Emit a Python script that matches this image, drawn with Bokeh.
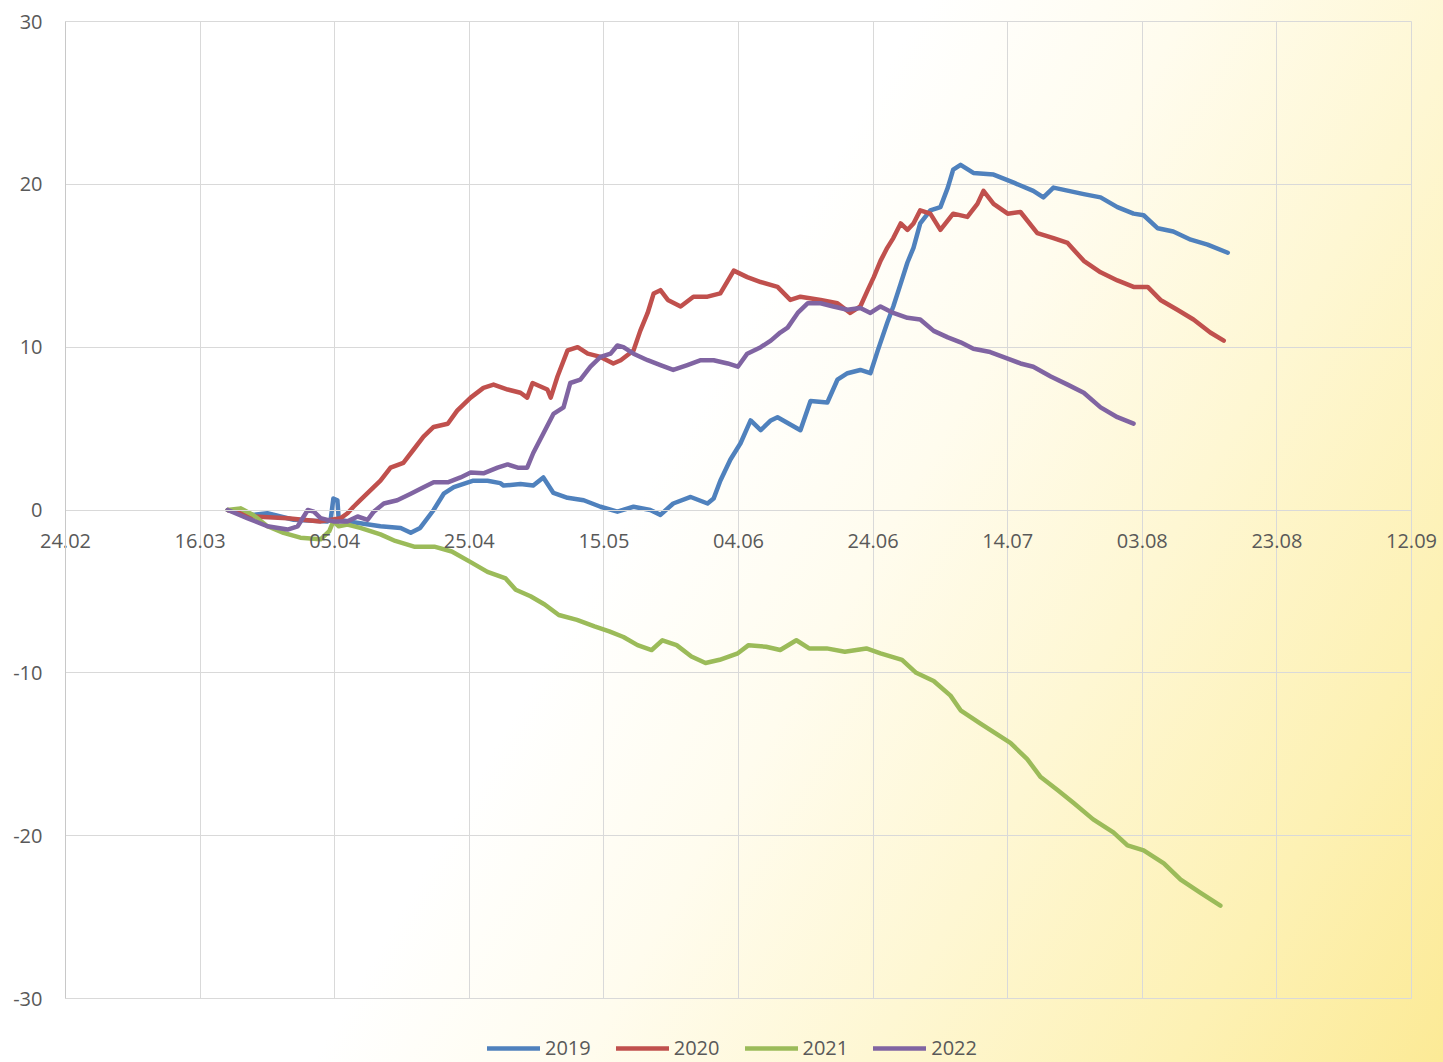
from bokeh.plotting import figure
from bokeh.models import Range1d, Legend, LegendItem, FixedTicker, Grid
from bokeh.embed import file_html
from bokeh.resources import INLINE

# x = days after 24.02 (non-leap year), y = weight change
tick_days = [0, 20, 40, 60, 80, 100, 120, 140, 160, 180, 200]
tick_labels = ["24.02", "16.03", "05.04", "25.04", "15.05", "04.06",
               "24.06", "14.07", "03.08", "23.08", "12.09"]
y_ticks = [-30, -20, -10, 0, 10, 20, 30]
y_tick_labels = ["-30", "-20", "-10", "0", "10", "20", "30"]

days_2019 = [24.1, 27.9, 30.0, 33.9, 38.9, 39.4, 39.8, 40.4, 40.6, 42.8, 46.8, 49.8, 51.3, 52.7,
             54.7, 56.2, 57.7, 60.6, 62.7, 64.6, 65.1, 67.6, 69.5, 71.0, 72.5, 74.6, 77.0, 79.5,
             82.0, 84.4, 86.9, 88.4, 90.3, 92.9, 95.4, 96.3, 97.3, 98.8, 100.3, 101.8, 103.3,
             104.8, 105.8, 107.5, 109.2, 110.7, 113.2, 114.7, 116.2, 118.1, 119.6, 120.7, 122.1,
             123.0, 124.1, 125.1, 126.0, 127.0, 128.5, 130.0, 131.1, 131.9, 133.0, 134.9, 137.9,
             140.9, 143.8, 145.3, 146.8, 151.3, 153.8, 156.3, 158.7, 160.2, 162.3, 164.6, 167.2,
             169.7, 172.7]
vals_2019 = [0.0, -0.3, -0.2, -0.6, -0.7, -0.6, 0.7, 0.6, -0.6, -0.75, -1.0, -1.1, -1.4, -1.1,
             0.0, 1.0, 1.4, 1.8, 1.8, 1.65, 1.5, 1.6, 1.5, 2.0, 1.05, 0.75, 0.6, 0.2,
             -0.1, 0.2, 0.0, -0.3, 0.4, 0.8, 0.4, 0.7, 1.8, 3.1, 4.1, 5.5, 4.9,
             5.5, 5.7, 5.3, 4.9, 6.7, 6.6, 8.0, 8.4, 8.6, 8.4, 9.8, 11.5,
             12.5, 13.9, 15.2, 16.1, 17.6, 18.4, 18.6, 19.8, 20.9, 21.2, 20.7, 20.6,
             20.1, 19.6, 19.2, 19.8, 19.4, 19.2, 18.6, 18.2, 18.1, 17.3, 17.1, 16.6,
             16.3, 15.8]

days_2020 = [24.1, 27.9, 33.0, 37.9, 40.9, 41.9, 42.8, 43.8, 45.3, 46.8, 48.3, 50.2, 51.7, 53.2,
             54.7, 56.8, 58.2, 60.2, 62.1, 63.6, 65.7, 67.6, 68.6, 69.4, 71.6, 72.1, 73.1, 74.6,
             76.1, 77.6, 79.5, 81.4, 82.5, 84.4, 85.4, 86.5, 87.4, 88.4, 89.5, 91.4, 93.3, 95.4,
             97.3, 99.3, 101.3, 103.3, 105.8, 107.7, 109.2, 112.2, 114.7, 116.6, 118.1, 119.2,
             120.1, 121.1, 122.1, 123.0, 124.1, 125.1, 126.0, 127.0, 128.5, 130.0, 131.9, 134.0,
             135.5, 136.4, 137.9, 140.0, 141.9, 144.4, 146.8, 148.9, 151.3, 153.8, 156.3, 158.7,
             160.8, 162.7, 165.2, 167.6, 170.1, 172.1]
vals_2020 = [0.0, -0.4, -0.5, -0.7, -0.5, -0.2, 0.2, 0.6, 1.2, 1.8, 2.6, 2.9, 3.7, 4.5,
             5.1, 5.3, 6.1, 6.9, 7.5, 7.7, 7.4, 7.2, 6.9, 7.8, 7.4, 6.9, 8.2, 9.8,
             10.0, 9.6, 9.4, 9.0, 9.2, 9.8, 11.0, 12.1, 13.3, 13.5, 12.9, 12.5, 13.1, 13.1,
             13.3, 14.7, 14.3, 14.0, 13.7, 12.9, 13.1, 12.9, 12.7, 12.1, 12.5, 13.5,
             14.3, 15.3, 16.1, 16.7, 17.6, 17.2, 17.6, 18.4, 18.2, 17.2, 18.2, 18.0,
             18.8, 19.6, 18.8, 18.2, 18.3, 17.0, 16.7, 16.4, 15.3, 14.6, 14.1, 13.7,
             13.7, 12.9, 12.3, 11.7, 10.9, 10.4]

days_2021 = [24.1, 26.0, 27.9, 30.0, 32.4, 34.9, 37.9, 39.2, 39.8, 40.6, 41.9, 43.8, 46.8, 49.0,
             51.8, 54.8, 57.4, 60.2, 62.7, 65.4, 66.9, 69.1, 71.2, 73.3, 76.0, 78.6, 80.8, 82.9,
             85.0, 87.1, 88.7, 90.8, 93.0, 95.1, 97.2, 99.9, 101.5, 104.1, 106.2, 108.6, 110.5,
             113.1, 115.8, 119.0, 121.1, 124.3, 126.4, 129.0, 131.5, 133.0, 135.9, 138.5, 140.4,
             142.9, 144.9, 147.4, 149.8, 152.7, 155.7, 157.8, 160.2, 163.2, 165.7, 168.6, 171.6]
vals_2021 = [0.0, 0.1, -0.3, -1.0, -1.4, -1.7, -1.8, -1.3, -0.7, -1.0, -0.9, -1.1, -1.5, -1.9,
             -2.25, -2.25, -2.55, -3.2, -3.8, -4.2, -4.9, -5.3, -5.8, -6.45, -6.75, -7.15, -7.45, -7.8,
             -8.3, -8.6, -8.0, -8.3, -9.0, -9.4, -9.2, -8.8, -8.3, -8.4, -8.6, -8.0, -8.5,
             -8.5, -8.7, -8.5, -8.8, -9.2, -10.0, -10.5, -11.4, -12.3, -13.1, -13.8, -14.3,
             -15.3, -16.4, -17.2, -18.0, -19.0, -19.8, -20.6, -20.9, -21.7, -22.7, -23.5, -24.3]

days_2022 = [24.1, 27.0, 30.0, 33.0, 34.5, 36.0, 36.9, 37.9, 39.8, 41.9, 43.4, 44.9, 45.8, 47.3,
             49.3, 51.3, 53.2, 54.7, 56.8, 58.7, 60.2, 62.1, 64.2, 65.7, 67.2, 68.6, 69.5, 71.0,
             72.5, 74.0, 75.0, 76.5, 78.0, 79.5, 81.0, 82.0, 82.9, 84.4, 86.5, 88.4, 90.3, 92.4,
             94.4, 96.3, 98.4, 99.9, 101.3, 103.3, 104.8, 106.2, 107.3, 108.8, 110.3, 112.2,
             114.1, 116.2, 118.1, 119.6, 121.1, 123.0, 125.1, 127.0, 129.0, 131.1, 133.0, 134.9,
             137.4, 140.0, 141.9, 143.8, 146.4, 148.9, 151.3, 153.8, 156.3, 158.7]
vals_2022 = [0.0, -0.5, -1.0, -1.2, -1.0, 0.0, -0.1, -0.5, -0.7, -0.7, -0.4, -0.6, -0.1, 0.4,
             0.6, 1.0, 1.4, 1.7, 1.7, 2.0, 2.3, 2.25, 2.6, 2.8, 2.6, 2.6, 3.5, 4.7,
             5.9, 6.3, 7.8, 8.0, 8.8, 9.4, 9.6, 10.1, 10.0, 9.6, 9.2, 8.9, 8.6, 8.9,
             9.2, 9.2, 9.0, 8.8, 9.6, 10.0, 10.4, 10.9, 11.2, 12.1, 12.7, 12.7,
             12.5, 12.3, 12.4, 12.1, 12.5, 12.1, 11.8, 11.7, 11.0, 10.6, 10.3, 9.9,
             9.7, 9.3, 9.0, 8.8, 8.2, 7.7, 7.2, 6.3, 5.7, 5.3]

series_names = ["2019", "2020", "2021", "2022"]
series_colors = ["#4F81BD", "#C0504D", "#9BBB59", "#8064A2"]
series_days = [days_2019, days_2020, days_2021, days_2022]
series_vals = [vals_2019, vals_2020, vals_2021, vals_2022]

FONT = "Open Sans"
TXT = "#595959"
GRID = "#D9D9D9"

# layout (pixels): the frame covers the whole figure, the chart box sits inside it
W, H = 1443, 1062
BOX_L, BOX_R, BOX_T, BOX_B = 65, 1411, 21, 998
x_lo, x_hi = tick_days[0], tick_days[-1]
y_lo, y_hi = y_ticks[0], y_ticks[-1]
pxd = (BOX_R - BOX_L) / (x_hi - x_lo)
pyu = (BOX_B - BOX_T) / (y_hi - y_lo)
x_range = Range1d(x_lo - BOX_L / pxd, x_hi + (W - BOX_R) / pxd)
y_range = Range1d(y_lo - (H - BOX_B) / pyu, y_hi + BOX_T / pyu)

p = figure(width=W, height=H, x_range=x_range, y_range=y_range,
           output_backend="svg", toolbar_location=None,
           min_border=0, min_border_left=0, min_border_right=0,
           min_border_top=0, min_border_bottom=0,
           styles={"background": "linear-gradient(120deg, #ffffff 0%, #ffffff 45%, #fffcee 58%, "
                                 "#fef7d3 72%, #fdf1b4 87%, #fcea96 100%)"})
p.background_fill_alpha = 0
p.border_fill_alpha = 0
p.outline_line_color = None

# grid limited to the chart box
p.xgrid.ticker = FixedTicker(ticks=tick_days)
p.ygrid.ticker = FixedTicker(ticks=y_ticks)
p.xgrid.grid_line_color = GRID
p.ygrid.grid_line_color = GRID
p.xgrid.bounds = (x_lo, x_hi)
p.ygrid.bounds = (y_lo, y_hi)
if "cross_bounds" in Grid.properties():
    p.xgrid.cross_bounds = (y_lo, y_hi)
    p.ygrid.cross_bounds = (x_lo, x_hi)
else:
    p.xgrid.visible = False
    p.ygrid.visible = False
    p.segment(x0=tick_days, x1=tick_days, y0=[y_lo] * len(tick_days), y1=[y_hi] * len(tick_days),
              line_color=GRID, line_width=1)
    p.segment(x0=[x_lo] * len(y_ticks), x1=[x_hi] * len(y_ticks), y0=y_ticks, y1=y_ticks,
              line_color=GRID, line_width=1)

renderers = []
for name, col, xs, ys in zip(series_names, series_colors, series_days, series_vals):
    r = p.line(xs, ys, line_color=col, line_width=4.5, line_join="round", line_cap="round")
    renderers.append(r)

# x axis crossing at y = 0
xa = p.xaxis[0]
xa.fixed_location = 0
xa.bounds = (x_lo, x_hi)
xa.ticker = FixedTicker(ticks=tick_days)
xa.major_label_overrides = {d: lab for d, lab in zip(tick_days, tick_labels)}
xa.major_tick_in = 0
xa.major_tick_out = 0
xa.minor_tick_in = 0
xa.minor_tick_out = 0
xa.axis_line_color = GRID
xa.major_label_standoff = 24
xa.major_label_text_font = FONT
xa.major_label_text_font_size = "20px"
xa.major_label_text_color = TXT

# y axis at the first day
ya = p.yaxis[0]
ya.fixed_location = x_lo
ya.bounds = (y_lo, y_hi)
ya.ticker = FixedTicker(ticks=y_ticks)
ya.major_label_overrides = {t: lab for t, lab in zip(y_ticks, y_tick_labels)}
ya.major_tick_in = 0
ya.major_tick_out = 0
ya.minor_tick_in = 0
ya.minor_tick_out = 0
ya.axis_line_color = "#C8C8C8"
ya.major_label_standoff = 23
ya.major_label_text_font = FONT
ya.major_label_text_font_size = "20px"
ya.major_label_text_color = TXT

legend = Legend(items=[LegendItem(label=n, renderers=[r]) for n, r in zip(series_names, renderers)],
                orientation="horizontal", location=(487, 1),
                glyph_width=53, glyph_height=20, label_standoff=5, spacing=25,
                label_text_font=FONT, label_text_font_size="20px", label_text_color=TXT,
                border_line_alpha=0, background_fill_alpha=0, padding=0, margin=0)
p.add_layout(legend, "center")

open("out.html", "w").write(file_html(p, INLINE))
